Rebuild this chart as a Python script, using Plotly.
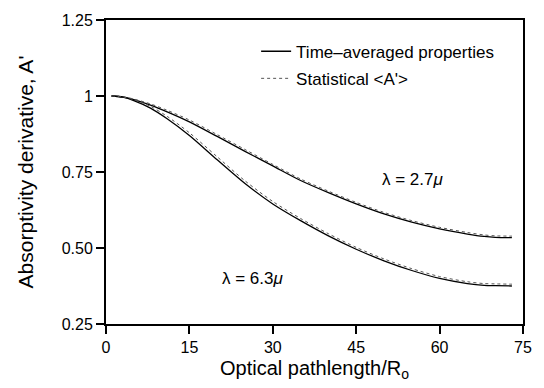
import plotly.graph_objects as go

# Optical pathlength / R_o
x = [1, 3, 5, 8, 11, 15, 20, 25, 30, 35, 40, 45, 50, 55, 60, 65, 68, 70, 73]

# lambda = 2.7 micron
ta_27 = [1.000, 0.997, 0.988, 0.970, 0.948, 0.915, 0.867, 0.818, 0.770, 0.722,
         0.682, 0.645, 0.612, 0.585, 0.563, 0.546, 0.538, 0.535, 0.534]
st_27 = [1.000, 0.998, 0.990, 0.974, 0.953, 0.921, 0.873, 0.824, 0.775, 0.727,
         0.687, 0.650, 0.617, 0.590, 0.568, 0.551, 0.543, 0.540, 0.539]

# lambda = 6.3 micron
ta_63 = [1.000, 0.996, 0.985, 0.960, 0.925, 0.870, 0.790, 0.712, 0.645, 0.590,
         0.540, 0.496, 0.458, 0.426, 0.400, 0.383, 0.377, 0.376, 0.375]
st_63 = [1.000, 0.997, 0.988, 0.966, 0.933, 0.879, 0.800, 0.721, 0.653, 0.597,
         0.547, 0.502, 0.464, 0.432, 0.406, 0.389, 0.383, 0.382, 0.381]

x_ticks = [0, 15, 30, 45, 60, 75]
y_ticks = [0.25, 0.5, 0.75, 1.0, 1.25]
y_ticktext = ["0.25", "0.50", "0.75", "1", "1.25"]

FONT = "Liberation Sans, Arial, sans-serif"

solid = dict(color="black", width=1.3, shape="spline", smoothing=0.8)
dotted = dict(color="#555", width=1, dash="dot", shape="spline", smoothing=0.8)

fig = go.Figure()
fig.add_trace(go.Scatter(x=x, y=ta_27, mode="lines", name="Time–averaged properties",
                         line=solid, legendgroup="a"))
fig.add_trace(go.Scatter(x=x, y=st_27, mode="lines", name="Statistical &lt;A'&gt;",
                         line=dotted, legendgroup="b"))
fig.add_trace(go.Scatter(x=x, y=ta_63, mode="lines", showlegend=False,
                         line=solid, legendgroup="a"))
fig.add_trace(go.Scatter(x=x, y=st_63, mode="lines", showlegend=False,
                         line=dotted, legendgroup="b"))

fig.add_annotation(x=55.2, y=0.725, text="λ = 2.7<i>μ</i>", showarrow=False,
                   font=dict(size=17, color="black", family=FONT))
fig.add_annotation(x=26.5, y=0.40, text="λ = 6.3<i>μ</i>", showarrow=False,
                   font=dict(size=17, color="black", family=FONT))

fig.update_layout(
    width=544, height=388,
    margin=dict(l=106, r=16, t=13, b=61),
    paper_bgcolor="white", plot_bgcolor="white",
    font=dict(family=FONT, color="black", size=16),
    legend=dict(x=0.36, y=0.955, xanchor="left", yanchor="top",
                bgcolor="rgba(0,0,0,0)", font=dict(size=17),
                tracegroupgap=2, itemwidth=30),
    xaxis=dict(range=[0, 75], tickvals=x_ticks, ticks="outside", ticklen=8,
               tickwidth=1.5, tickcolor="black", showline=True, linecolor="black",
               linewidth=2, mirror=True, showgrid=False, zeroline=False,
               tickfont=dict(size=16),
               title=dict(text="Optical pathlength/R<sub>o</sub>", font=dict(size=20), standoff=6)),
    yaxis=dict(range=[0.25, 1.25], tickvals=y_ticks, ticktext=y_ticktext,
               ticks="outside", ticklen=8, tickwidth=1.5, tickcolor="black",
               showline=True, linecolor="black", linewidth=2, mirror=True,
               showgrid=False, zeroline=False, tickfont=dict(size=16),
               title=dict(text="Absorptivity derivative, A'", font=dict(size=21), standoff=22)),
)

fig.write_html("out.html")
